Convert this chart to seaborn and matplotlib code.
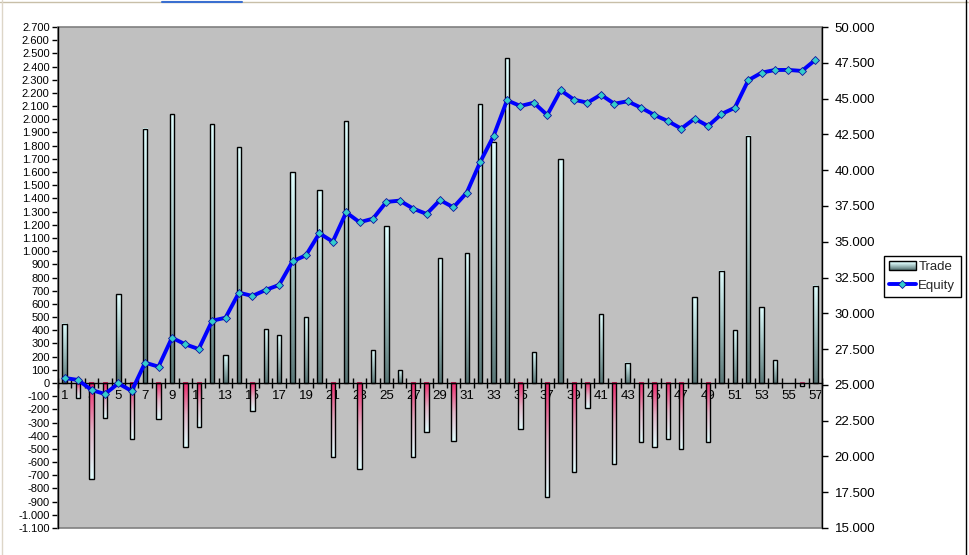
import numpy as np
import pandas as pd
import seaborn as sns
import matplotlib.pyplot as plt
from matplotlib.colors import LinearSegmentedColormap
from matplotlib.patches import Rectangle
from matplotlib.lines import Line2D
from matplotlib.legend_handler import HandlerBase
from matplotlib.ticker import FuncFormatter

# trade results and equity curve
trade_no = list(range(1, 58))
trade = [450, -115, -730, -268, 675, -427, 1930, -275, 2040, -488,
         -336, 1963, 210, 1788, -215, 407, 362, 1600, 498, 1462,
         -564, 1985, -655, 248, 1189, 96, -564, -374, 946, -440,
         984, 2114, 1826, 2463, -351, 233, -865, 1697, -678, -192,
         521, -617, 152, -450, -488, -427, -503, 650, -450, 850,
         400, 1874, 574, 172, 0, -23, 736]
equity = [25480, 25340, 24640, 24360, 25100, 24570, 26550, 26270, 28290, 27830,
          27500, 29480, 29690, 31440, 31210, 31630, 31980, 33630, 34050, 35590,
          35000, 37050, 36360, 36610, 37780, 37870, 37310, 36940, 37910, 37400,
          38430, 40570, 42390, 44880, 44480, 44710, 43850, 45580, 44920, 44710,
          45270, 44640, 44810, 44360, 43850, 43430, 42900, 43600, 43080, 43920,
          44360, 46280, 46810, 47000, 47000, 46930, 47700]

left_ticks = np.arange(-1100, 2701, 100)
right_ticks = np.arange(15000, 50001, 2500)

df = pd.DataFrame({"trade_no": trade_no, "trade": trade, "equity": equity})

#excel style number format, dot as thousand separator
def fmt(v, pos=None):
    return f"{int(round(v)):,}".replace(",", ".")

pos_cmap = LinearSegmentedColormap.from_list("pos", ["#5A7878", "#9FBDBD", "#E0FFFF"])
neg_cmap = LinearSegmentedColormap.from_list("neg", ["#E0FFFF", "#E2B4C6", "#F0246A"])

class GradientHandler(HandlerBase):
    def create_artists(self, legend, orig_handle, xdescent, ydescent, width, height, fontsize, trans):
        n = 8
        arts = []
        for i in range(n):
            arts.append(Rectangle((-xdescent, -ydescent + i * height / n), width, height / n,
                                  facecolor=pos_cmap(i / (n - 1)), edgecolor="none", transform=trans))
        arts.append(Rectangle((-xdescent, -ydescent), width, height, fill=False,
                              edgecolor="black", lw=1, transform=trans))
        return arts

sns.set_theme(style="ticks")
plt.rcParams['font.family'] = ['Liberation Sans', 'DejaVu Sans']

fig = plt.figure(figsize=(9.7, 5.55), dpi=100)
fig.patch.set_facecolor("white")
ax = fig.add_axes([58 / 970, 27 / 555, 764 / 970, 501 / 555])
ax.set_facecolor("#C0C0C0")

sns.barplot(data=df, x="trade_no", y="trade", ax=ax, order=trade_no, width=0.33,
            color="#C0C0C0", saturation=1, errorbar=None)

# gradient fill for every bar (drawn over the axis labels like excel does)
grad = np.linspace(0, 1, 128).reshape(-1, 1)
for bar in ax.patches:
    h = bar.get_height()
    if h == 0:
        bar.set_visible(False)
        continue
    x0, w = bar.get_x(), bar.get_width()
    y0, y1 = sorted([bar.get_y(), bar.get_y() + h])
    cmap = pos_cmap if h > 0 else neg_cmap
    ax.imshow(grad, cmap=cmap, extent=[x0, x0 + w, y0, y1], origin="lower",
              aspect="auto", interpolation="bilinear", zorder=2.8)
    bar.set_facecolor("none")
    bar.set_edgecolor("black")
    bar.set_linewidth(1)
    bar.set_zorder(3)

ax2 = ax.twinx()
sns.lineplot(x=df.index, y=df["equity"], ax=ax2, color="#0000FF", lw=2.8,
             marker="D", markersize=4.5, markerfacecolor="#33CCCC",
             markeredgecolor="#1010A0", markeredgewidth=0.6, legend=False)

ax.set_xlim(-0.5, 56.5)
ax.set_ylim(-1100, 2700)
ax2.set_ylim(15000, 50000)
ax.set_xlabel("")
ax.set_ylabel("")
ax2.set_xlabel("")
ax2.set_ylabel("")
ax.grid(False)
ax2.grid(False)

# left axis
ax.set_yticks(left_ticks)
ax.yaxis.set_major_formatter(FuncFormatter(fmt))
ax.tick_params(axis="y", left=True, direction="out", length=4, width=1, color="black",
               labelsize=8, pad=2, labelcolor="black")

# category axis sits on zero, ticks between categories
ax.spines["bottom"].set_position(("data", 0))
ax.set_xticks(np.arange(-0.5, 57, 1), labels=[])
ax.set_xticks(range(len(trade_no)),
              labels=[str(n) if n % 2 == 1 else "" for n in trade_no], minor=True)
ax.tick_params(axis="x", which="major", bottom=True, direction="inout", length=7,
               width=1, color="black")
ax.tick_params(axis="x", which="minor", bottom=True, length=0, pad=5, labelsize=9.5,
               labelcolor="black")

for s in ["top", "right"]:
    ax.spines[s].set_visible(False)
for s in ["left", "bottom"]:
    ax.spines[s].set_color("black")
    ax.spines[s].set_linewidth(1)
    ax.spines[s].set_zorder(4)

# right axis
ax2.set_yticks(right_ticks)
ax2.yaxis.set_major_formatter(FuncFormatter(fmt))
ax2.tick_params(axis="y", right=True, direction="out", length=4, width=1, color="black",
                labelsize=9.5, pad=5, labelcolor="black")
for s in ["top", "left", "bottom"]:
    ax2.spines[s].set_visible(False)
ax2.spines["right"].set_color("black")
ax2.spines["right"].set_linewidth(1)

# plot area border
ax.add_patch(Rectangle((0, 0), 1, 1, transform=ax.transAxes, fill=False,
                       edgecolor="#808080", lw=1.2, zorder=1, clip_on=False))

handles = [Rectangle((0, 0), 1, 1),
           Line2D([], [], color="#0000FF", lw=2.8, marker="D", markersize=4.5,
                  markerfacecolor="#33CCCC", markeredgecolor="#1010A0", markeredgewidth=0.6)]
leg = fig.legend(handles, ["Trade", "Equity"], handler_map={handles[0]: GradientHandler()},
                 loc="upper left", bbox_to_anchor=(884 / 970, 1 - 256 / 555),
                 frameon=True, fancybox=False, framealpha=1, edgecolor="black",
                 fontsize=9.5, handlelength=2.0, handleheight=0.6, borderpad=0.4,
                 labelspacing=0.5, handletextpad=0.2, borderaxespad=0)
leg.get_frame().set_linewidth(1)

# spreadsheet edges around the chart object
fig.add_artist(Line2D([0, 1], [1 - 1.5 / 555] * 2, transform=fig.transFigure,
                      color="#C8BFA8", lw=1))
fig.add_artist(Line2D([162 / 970, 242 / 970], [1 - 1.5 / 555] * 2, transform=fig.transFigure,
                      color="#3A6FD0", lw=1.5))
fig.add_artist(Line2D([966 / 970] * 2, [0, 1], transform=fig.transFigure,
                      color="black", lw=1))
fig.add_artist(Line2D([2 / 970] * 2, [0, 1], transform=fig.transFigure,
                      color="#DDD6C8", lw=1))

fig.savefig("out.png", dpi=100)
